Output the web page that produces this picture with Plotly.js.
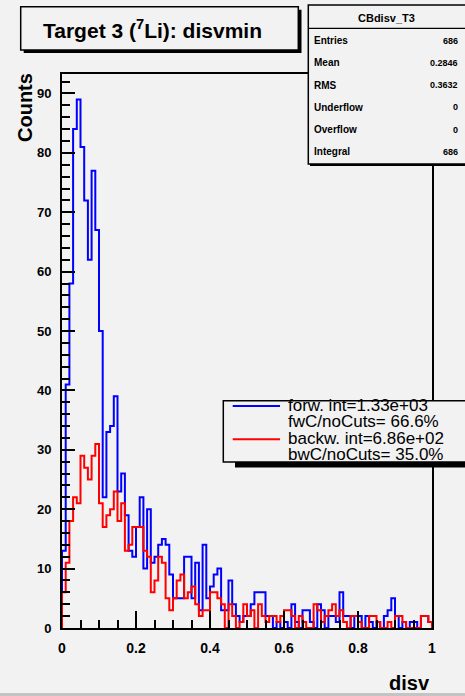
<!DOCTYPE html>
<html>
<head>
<meta charset="utf-8">
<script src="https://cdn.plot.ly/plotly-3.0.1.min.js"></script>
<style>
html,body{margin:0;padding:0;background:#f2f2f2;}
#chart{width:465px;height:696px;}
</style>
</head>
<body>
<div id="chart"></div>
<script>
// ---------------- data ----------------
const X_MIN = 0.0;
const BIN_WIDTH = 0.01;
const forwCounts = [
  13,41,58,84,89,81,72,62,77,67,
  50,22,33,34,39,23,26,19,13,12,
  17,22,10,20,11,12,14,15,14,9,
  5,5,5,12,12,5,11,3,14,5,
  7,9,10,3,3,8,4,2,1,2,
  2,4,6,6,6,2,2,0,1,0,
  1,0,4,1,0,3,3,1,0,4,
  3,0,2,2,1,6,2,2,0,2,
  2,0,2,1,0,1,0,2,3,5,
  2,0,1,0,1,1,0,2,2,1
];
const backCounts = [
  6,11,18,22,21,29,27,25,29,31,
  21,17,19,20,23,18,21,13,14,17,
  17,17,13,12,6,8,12,11,5,3,
  5,8,9,5,6,7,4,2,3,3,
  6,6,5,4,0,4,2,0,1,4,
  2,3,0,4,2,1,2,2,1,2,
  3,3,2,0,2,1,0,0,4,3,
  1,2,3,4,2,3,1,0,2,2,
  1,0,0,2,2,1,0,0,1,0,
  2,2,1,0,0,0,0,2,2,1
];
const yTickVals = [0,10,20,30,40,50,60,70,80,90];
const xTickVals = [0,0.2,0.4,0.6,0.8,1];
const xTickText = ["0","0.2","0.4","0.6","0.8","1"];
const titleText = "Target 3 (<sup>7</sup>Li): disvmin";
const statsName = "CBdisv_T3";
const statsLabels = ["Entries","Mean","RMS","Underflow","Overflow","Integral"];
const statsValues = ["686","0.2846","0.3632","0","0","686"];
const legendLines = ["forw. int=1.33e+03","fwC/noCuts= 66.6%","backw. int=6.86e+02","bwC/noCuts= 35.0%"];

// ------------- step outline built from bins -------------
function stepTrace(counts, color){
  const xs = [X_MIN], ys = [0];
  counts.forEach((c,i)=>{ xs.push(X_MIN + i*BIN_WIDTH); ys.push(c); });
  const xEnd = X_MIN + counts.length*BIN_WIDTH;
  xs.push(xEnd); ys.push(counts[counts.length-1]);
  xs.push(xEnd); ys.push(0);
  return {x:xs, y:ys, type:'scatter', mode:'lines',
          line:{shape:'hv', color:color, width:2}, hoverinfo:'skip', showlegend:false, cliponaxis:true};
}

// ------------- geometry helpers (pixel -> paper) -------------
const W=465, H=696, ML=62, MR=33, MT=74, MB=68;
const PW = W-ML-MR, PH = H-MT-MB;
const px = v => (v-ML)/PW;
const py = v => (H-MB-v)/PH;

const FONT = "Liberation Sans, Arial, Helvetica, sans-serif";
const shapes = [];
const ann = [];
function rect(x0,y0,x1,y1,fill,lineColor,lw){
  shapes.push({type:'rect', xref:'paper', yref:'paper', x0:px(x0), x1:px(x1), y0:py(y1), y1:py(y0),
    fillcolor:fill, line:{color:lineColor||fill, width:lw===undefined?0:lw}, layer:'above'});
}
function line(x0,y0,x1,y1,color,lw){
  shapes.push({type:'line', xref:'paper', yref:'paper', x0:px(x0), x1:px(x1), y0:py(y0), y1:py(y1),
    line:{color:color, width:lw}, layer:'above'});
}
function text(t,x,y,size,opts){
  opts = opts||{};
  ann.push(Object.assign({text:t, xref:'paper', yref:'paper', x:px(x), y:py(y), showarrow:false,
    xanchor:opts.xanchor||'left', yanchor:opts.yanchor||'middle',
    font:{family:FONT, size:size, color:'#000', weight:opts.weight||'normal'}}, opts.extra||{}));
}

// title box with shadow
rect(23.7,9.7,301.5,53,'#000');
rect(20.7,6.7,298.3,50,'#f2f2f2','#000',1.5);
text(titleText,41,29,21,{weight:'bold'});

// stats box
rect(310,7,470,166,'#000');
rect(308.3,5,470,164,'#f2f2f2','#000',1.5);
line(308.3,28.3,470,28.3,'#000',1.2);
text(statsName,386,17.5,11,{weight:'bold',xanchor:'center'});
statsLabels.forEach((l,i)=>{
  const yy = 40.7 + i*22.2;
  text(l,312,yy,10,{weight:'bold'});
  text(statsValues[i],460,yy,9,{weight:'bold',xanchor:'right'});
});

// legend box with shadow
rect(235,461,470,467.5,'#000');
rect(223.3,400.7,470,462,'#f2f2f2','#000',1.5);
line(232.7,406,280,406,'#0000ff',2);
line(232.7,439.3,280,439.3,'#ff0000',2);
legendLines.forEach((l,i)=>{
  text(l,286,405+i*16.6,17,{});
});

// axis titles
text("Counts",25,108,20,{weight:'bold',xanchor:'center',extra:{textangle:-90}});
text("disv",432,683,20,{weight:'bold',xanchor:'right'});

// canvas bevel
rect(0,693,470,700,'#c4c4c4');

const layout = {
  width:W, height:H,
  margin:{l:ML, r:MR, t:MT, b:MB, pad:0},
  paper_bgcolor:'#f2f2f2', plot_bgcolor:'#f2f2f2',
  showlegend:false,
  xaxis:{range:[0,1], showgrid:false, zeroline:false, showline:true, mirror:true,
    linecolor:'#000', linewidth:2, ticks:'inside', ticklen:17, tickwidth:2, tickcolor:'#000',
    tickvals:xTickVals, ticktext:xTickText, ticklabelstandoff:6,
    tickfont:{family:FONT, size:14, color:'#000', weight:'bold'},
    minor:{dtick:0.05, ticks:'inside', ticklen:8, tickwidth:2, tickcolor:'#000', showgrid:false}},
  yaxis:{range:[0,93.28], showgrid:false, zeroline:false, showline:true, mirror:true,
    linecolor:'#000', linewidth:2, ticks:'inside', ticklen:12.5, tickwidth:2, tickcolor:'#000',
    tickvals:yTickVals, ticklabelstandoff:6,
    tickfont:{family:FONT, size:13, color:'#000', weight:'bold'},
    minor:{dtick:2, ticks:'inside', ticklen:7.5, tickwidth:2, tickcolor:'#000', showgrid:false}},
  shapes:shapes,
  annotations:ann
};

Plotly.newPlot('chart',[stepTrace(forwCounts,'#0000ff'), stepTrace(backCounts,'#ff0000')], layout, {staticPlot:true, displayModeBar:false});
</script>
</body>
</html>
